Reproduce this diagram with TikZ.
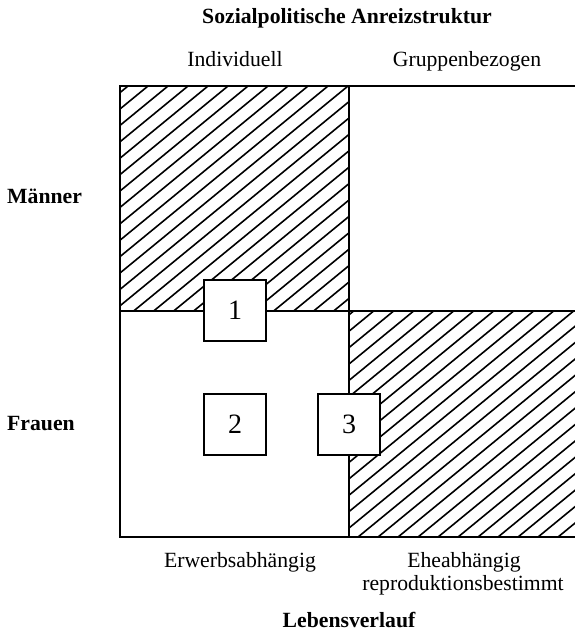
\documentclass[tikz,border=0pt]{standalone}
\usepackage{fontspec}
\setmainfont{Liberation Serif}
\begin{document}
\begin{tikzpicture}[x=1pt,y=-1pt,
  frame/.style={line width=2.2pt, line cap=rect},
  hatchline/.style={line width=1.6pt},
  numbox/.style={draw, line width=2.2pt, fill=white, minimum width=62pt,
    minimum height=61pt, inner sep=0pt, font=\fontsize{28}{32}\selectfont},
  lbl/.style={anchor=base, inner sep=0pt, font=\fontsize{21.7}{26}\selectfont},
  hdr/.style={lbl, font=\fontsize{21.7}{26}\selectfont\bfseries}]
\useasboundingbox (0,0) rectangle (575,635);

% diagonal hatching of the two shaded fields
\begin{scope}
  \clip (120,86) rectangle (349,311) (349,311) rectangle (575,537);
  \foreach \k in {8,...,64}{
    \draw[hatchline] (0,{10.6+16.4*\k}) -- (800,{10.6+16.4*\k-656});
  }
\end{scope}

% grid lines
\coordinate (tl) at (120,86);
\coordinate (tm) at (349,86);
\coordinate (tr) at (575,86);
\coordinate (ml) at (120,311);
\coordinate (mm) at (349,311);
\coordinate (mr) at (575,311);
\coordinate (bl) at (120,537);
\coordinate (bm) at (349,537);
\coordinate (br) at (575,537);
\draw[frame] (tr) -- (tl) -- (bl) -- (br);
\draw[frame] (ml) -- (mr);
\draw[frame] (tm) -- (bm);

% numbered boxes
\node[numbox] (b1) at (235,310.5) {1};
\node[numbox] (b2) at (235,424.5) {2};
\node[numbox] (b3) at (349,424.5) {3};

% headings and labels
\node[hdr] (title) at (347,23) {Sozialpolitische Anreizstruktur};
\node[lbl] (ind) at (235,66) {Individuell};
\node[lbl] (grp) at (467,66) {Gruppenbezogen};
\node[hdr, anchor=base west] (men) at (7,203) {Männer};
\node[hdr, anchor=base west] (wom) at (7,430) {Frauen};
\node[lbl] (erw) at (240,567) {Erwerbsabhängig};
\node[lbl] (ehe) at (464,567) {Eheabhängig};
\node[lbl] (rep) at (463,590) {reproduktionsbestimmt};
\node[hdr] (leb) at (349,627) {Lebensverlauf};
\end{tikzpicture}
\end{document}
